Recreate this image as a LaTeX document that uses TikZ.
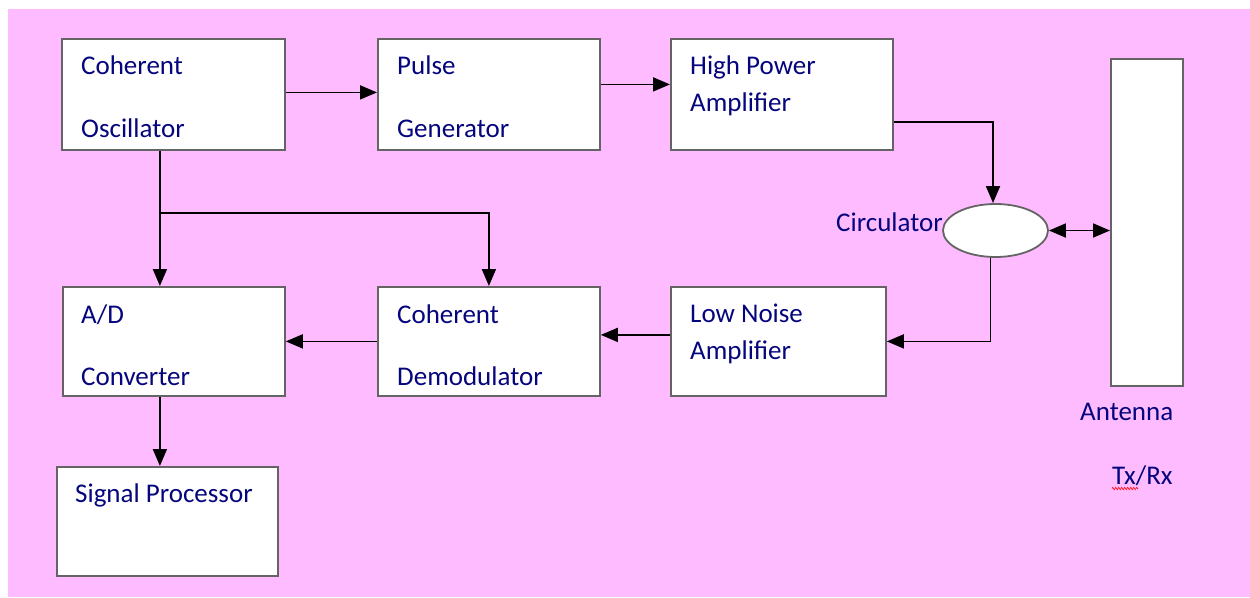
\documentclass[tikz,border=0pt]{standalone}
\usepackage{fontspec}
\setmainfont{Carlito}
\usetikzlibrary{arrows.meta,shapes.geometric,decorations.pathmorphing}
\definecolor{bgpink}{RGB}{255,187,255}
\definecolor{txtblue}{RGB}{5,5,125}
\definecolor{boxgray}{RGB}{100,100,100}
\begin{document}
\begin{tikzpicture}[x=1pt,y=-1pt,
  blk/.style={draw=boxgray,line width=1.8pt,fill=white,inner sep=0pt,anchor=north west},
  lbl/.style={anchor=base west,inner sep=0pt,text=txtblue,font=\fontsize{27}{32}\selectfont},
  conn/.style={draw=black,line width=1.8pt},
  arr/.style={conn,-{Triangle[length=17pt,width=14pt]}},
  darr/.style={conn,{Triangle[length=17pt,width=14pt]}-{Triangle[length=17pt,width=14pt]}}]
\useasboundingbox (0,0) rectangle (1250,597);
\fill[bgpink] (8,9) rectangle (1250,597);
% boxes
\node[blk,minimum width=223pt,minimum height=111pt] (co) at (61,38) {};
\node[blk,minimum width=222pt,minimum height=111pt] (pg) at (377,38) {};
\node[blk,minimum width=222pt,minimum height=111pt] (hpa) at (670,38) {};
\node[blk,minimum width=222pt,minimum height=109pt] (ad) at (62,286) {};
\node[blk,minimum width=222pt,minimum height=109pt] (cd) at (377,286) {};
\node[blk,minimum width=215pt,minimum height=109pt] (lna) at (670,286) {};
\node[blk,minimum width=221pt,minimum height=109pt] (sp) at (56,466) {};
\node[blk,minimum width=72pt,minimum height=327pt] (ant) at (1110,58) {};
\node[draw=boxgray,line width=1.8pt,fill=white,ellipse,inner sep=0pt,minimum width=105pt,minimum height=53pt] (circ) at (995.5,230.5) {};
% labels
\node[lbl] (tco1) at (81,74) {Coherent};
\node[lbl] (tco2) at (81,137) {Oscillator};
\node[lbl] (tpg1) at (397,74) {Pulse};
\node[lbl] (tpg2) at (397,137) {Generator};
\node[lbl] (thpa1) at (690,74) {High Power};
\node[lbl] (thpa2) at (690,111) {Amplifier};
\node[lbl] (tad1) at (81,323) {A/D};
\node[lbl] (tad2) at (81,385) {Converter};
\node[lbl] (tcd1) at (397,323) {Coherent};
\node[lbl] (tcd2) at (397,385) {Demodulator};
\node[lbl] (tlna1) at (690,322) {Low Noise};
\node[lbl] (tlna2) at (690,359) {Amplifier};
\node[lbl] (tsp) at (75,502) {Signal Processor};
\node[lbl] (tcirc) at (836,231) {Circulator};
\node[lbl] (tant) at (1080,420) {Antenna};
\node[lbl] (ttx) at (1112,484) {Tx/Rx};
\draw[red,line width=0.6pt,decorate,decoration={zigzag,amplitude=1.2pt,segment length=3pt}] (1112,488.5) -- (1138,488.5);
% junctions
\coordinate (cox) at ([xshift=-13.5pt]co.south);
\coordinate (br) at (cox |- 0,213);
\coordinate (hpaout) at ([yshift=-27.5pt]hpa.east);
% connectors
\draw[arr] ([yshift=2pt]co.east) -- ([yshift=2pt]pg.west);
\draw[arr] ([yshift=10pt]pg.east) -- ([yshift=10pt]hpa.west);
\draw[arr] (hpaout) -| ([xshift=-2.5pt]circ.north);
\draw[darr] (circ.east) -- (circ.east -| ant.west);
\draw[arr] ([xshift=-5pt]circ.south) |- (lna.east);
\draw[arr] ([yshift=6.5pt]lna.west) -- ([yshift=6.5pt]cd.east);
\draw[arr] (cd.west) -- (ad.east);
\draw[arr] (cox) -- (cox |- ad.north);
\draw[arr] (br) -| (cd.north);
\draw[arr] (cox |- ad.south) -- (cox |- sp.north);
\end{tikzpicture}
\end{document}
